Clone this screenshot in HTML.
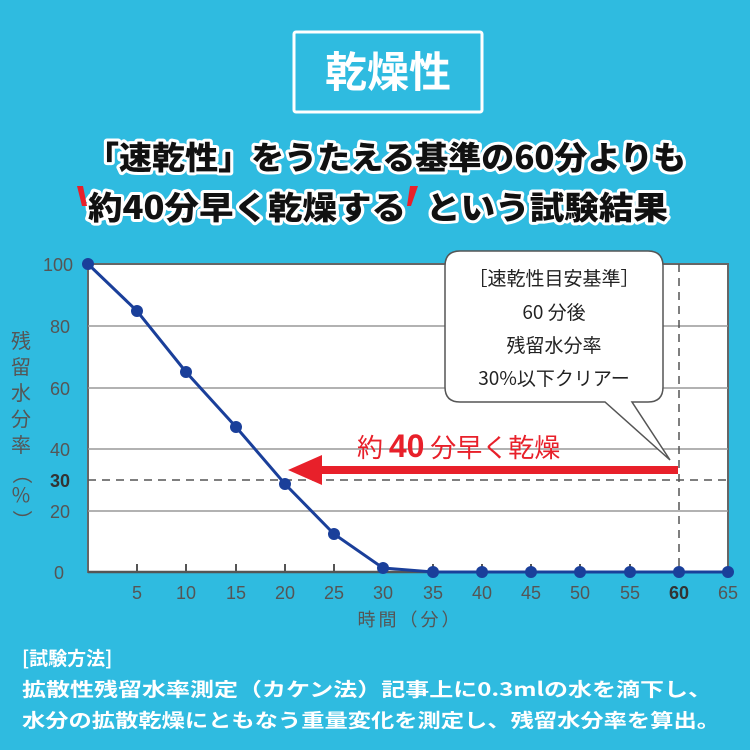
<!DOCTYPE html>
<html><head><meta charset="utf-8"><style>
body{margin:0;width:750px;height:750px;background:#2fbbe0;overflow:hidden;font-family:"Liberation Sans","Noto Sans CJK JP",sans-serif;}
</style></head><body>
<svg width="750" height="750" viewBox="0 0 750 750" xmlns="http://www.w3.org/2000/svg" style="position:absolute;left:0;top:0">
<rect x="294" y="32" width="188" height="80" fill="none" stroke="#fff" stroke-width="3" rx="2"/>
<text x="388" y="87" text-anchor="middle" font-size="42" font-weight="bold" fill="#fff" font-family="Noto Sans CJK JP,sans-serif">乾燥性</text>
<g font-family="Noto Sans CJK JP,sans-serif" font-weight="900" font-size="32" stroke="#fff" stroke-width="6" stroke-linejoin="round" paint-order="stroke" fill="#111">
<text x="86" y="169" textLength="600" lengthAdjust="spacingAndGlyphs">「速乾性」をうたえる基準の60分よりも</text>
<text x="88" y="219" textLength="318" lengthAdjust="spacingAndGlyphs">約40分早く乾燥する</text>
<text x="426" y="219" textLength="242" lengthAdjust="spacingAndGlyphs">という試験結果</text>
</g>
<polygon points="77,186 83,186 87,206 82,206" fill="#e8202a"/>
<polygon points="410,186 418,186 411,206 407,206" fill="#e8202a"/>
<!-- plot -->
<rect x="88" y="264" width="640" height="308" fill="#fff" stroke="#666" stroke-width="2"/>
<g stroke="#999" stroke-width="1.5">
<line x1="88" y1="326" x2="728" y2="326"/><line x1="88" y1="388" x2="728" y2="388"/>
<line x1="88" y1="449" x2="728" y2="449"/><line x1="88" y1="511" x2="728" y2="511"/>
</g>
<line x1="88" y1="480" x2="728" y2="480" stroke="#555" stroke-width="1.5" stroke-dasharray="8,6"/>
<line x1="679" y1="264" x2="679" y2="572" stroke="#555" stroke-width="1.5" stroke-dasharray="8,6"/>
<line x1="88" y1="572" x2="728" y2="572" stroke="#555" stroke-width="2.5"/>
<g stroke="#555" stroke-width="2">
<line x1="137" y1="564" x2="137" y2="572"/><line x1="186" y1="564" x2="186" y2="572"/><line x1="236" y1="564" x2="236" y2="572"/><line x1="285" y1="564" x2="285" y2="572"/><line x1="334" y1="564" x2="334" y2="572"/><line x1="383" y1="564" x2="383" y2="572"/><line x1="433" y1="564" x2="433" y2="572"/><line x1="482" y1="564" x2="482" y2="572"/><line x1="531" y1="564" x2="531" y2="572"/><line x1="580" y1="564" x2="580" y2="572"/><line x1="630" y1="564" x2="630" y2="572"/>
</g>
<polyline points="88,264 137,311 186,372 236,427 285,484 334,534 383,568 433,572 482,572 531,572 580,572 630,572 679,572 728,572" fill="none" stroke="#1a3f9a" stroke-width="3"/>
<g fill="#1a3f9a">
<circle cx="88" cy="264" r="6"/><circle cx="137" cy="311" r="6"/><circle cx="186" cy="372" r="6"/><circle cx="236" cy="427" r="6"/><circle cx="285" cy="484" r="6"/><circle cx="334" cy="534" r="6"/><circle cx="383" cy="568" r="6"/><circle cx="433" cy="572" r="6"/><circle cx="482" cy="572" r="6"/><circle cx="531" cy="572" r="6"/><circle cx="580" cy="572" r="6"/><circle cx="630" cy="572" r="6"/><circle cx="679" cy="572" r="6"/><circle cx="728" cy="572" r="6"/>
</g>
<!-- callout -->
<path d="M460,251 H648 Q663,251 663,266 V387 Q663,402 648,402 H632 L670,460 L605,402 H460 Q445,402 445,387 V266 Q445,251 460,251 Z" fill="#fff" stroke="#555" stroke-width="1.5"/>
<g font-family="Noto Sans CJK JP,sans-serif" font-size="19" fill="#222" text-anchor="middle">
<text x="554" y="285">［速乾性目安基準］</text>
<text x="554" y="319">60 分後</text>
<text x="554" y="352">残留水分率</text>
<text x="554" y="385">30%以下クリアー</text>
</g>
<!-- red arrow -->
<rect x="318" y="466" width="360" height="8" fill="#e8202a"/>
<polygon points="288,470 322,455 322,485" fill="#e8202a"/>
<text x="357" y="457" font-family="Noto Sans CJK JP,sans-serif" font-size="26" fill="#e8202a">約 <tspan font-weight="bold" font-size="32" font-family="Liberation Sans,sans-serif">40</tspan> 分早く乾燥</text>
<!-- y labels -->
<g font-family="Liberation Sans,sans-serif" font-size="18" fill="#555" text-anchor="end">
<text x="73" y="271">100</text><text x="70" y="333">80</text><text x="70" y="395">60</text><text x="70" y="456">40</text>
<text x="70" y="487" font-weight="bold" fill="#333">30</text><text x="70" y="518">20</text><text x="64" y="579">0</text>
</g>
<g font-family="Noto Sans CJK JP,sans-serif" font-size="20" fill="#555" text-anchor="middle">
<text x="21" y="348">残</text><text x="21" y="374">留</text><text x="21" y="400">水</text><text x="21" y="426">分</text><text x="21" y="452">率</text>
<text x="21" y="480" transform="rotate(90 21 474)">（</text><text x="21" y="502">%</text><text x="21" y="526" transform="rotate(90 21 520)">）</text>
</g>
<g font-family="Liberation Sans,sans-serif" font-size="18" fill="#555" text-anchor="middle">
<text x="137" y="599">5</text><text x="186" y="599">10</text><text x="236" y="599">15</text><text x="285" y="599">20</text><text x="334" y="599">25</text><text x="383" y="599">30</text><text x="433" y="599">35</text><text x="482" y="599">40</text><text x="531" y="599">45</text><text x="580" y="599">50</text><text x="630" y="599">55</text><text x="679" y="599" font-weight="bold" fill="#333">60</text><text x="728" y="599">65</text>
</g>
<text x="410" y="626" text-anchor="middle" font-family="Noto Sans CJK JP,sans-serif" font-size="18" fill="#555" letter-spacing="3">時間（分）</text>
<g font-family="Noto Sans CJK JP,sans-serif" font-weight="bold" font-size="19" fill="#fff">
<text x="22" y="665">[試験方法]</text>
<text x="22" y="696" textLength="690" lengthAdjust="spacingAndGlyphs">拡散性残留水率測定（カケン法）記事上に0.3mlの水を滴下し、</text>
<text x="22" y="727" textLength="698" lengthAdjust="spacingAndGlyphs">水分の拡散乾燥にともなう重量変化を測定し、残留水分率を算出。</text>
</g>
</svg>
</body></html>
